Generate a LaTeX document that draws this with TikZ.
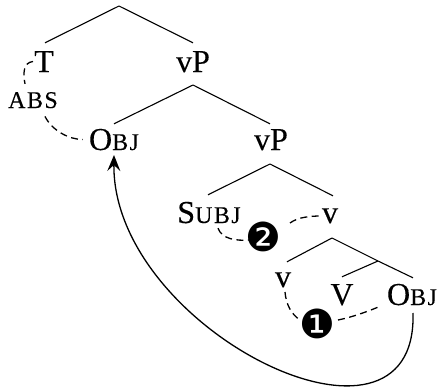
\documentclass[tikz,border=0pt]{standalone}
\usepackage{fontspec}
\setmainfont{Liberation Serif}[FakeBold=0.2]
\newfontfamily\dejavu{DejaVu Sans}
\usetikzlibrary{arrows.meta,calc}
\newcommand\fsc[1]{{\fontsize{24pt}{24pt}\selectfont\addfontfeature{LetterSpace=6}#1}}
\begin{document}
\begin{tikzpicture}[x=1pt,y=-1pt,
  lab/.style={font=\fontsize{32pt}{32pt}\selectfont, inner sep=0pt, text height=21pt, text depth=0pt, anchor=base},
  br/.style={line width=1.1pt},
  dsh/.style={dash pattern=on 7pt off 4.5pt, line width=1.3pt},
  num/.style={font=\dejavu\fontsize{40pt}{40pt}\selectfont, inner sep=0pt},
  arr/.style={line width=1.3pt, -{Stealth[length=16pt,width=13pt,inset=6pt]}}]
\useasboundingbox (0,0) rectangle (440,388);
% nodes
\coordinate (r0) at (119,6);
\node[lab] (T) at (44,72) {T};
\node[lab] (vP1) at (193,72) {vP};
\node[font=\fontsize{24pt}{24pt}\selectfont\addfontfeature{LetterSpace=6}, inner sep=0pt, anchor=base] (ABS) at (33,108) {ABS};
\coordinate (a1) at (193,85);
\node[lab] (OBJ1) at (114,150) {O\fsc{BJ}};
\node[lab] (vP2) at (271,150) {vP};
\coordinate (a2) at (270,164);
\node[lab] (SUBJ) at (209,223) {S\fsc{UBJ}};
\node[lab] (v1) at (330,223) {v};
\coordinate (a3) at (332,238);
\coordinate (a4) at (378,261);
\node[lab] (v2) at (283,287) {v};
\node[lab] (V) at (342,305) {V};
\node[lab] (OBJ2) at (412,305) {O\fsc{BJ}};
\node[num] (n2) at (263,237) {❷};
\node[num] (n1) at (317,324) {❶};
% branches
\draw[br] (r0) -- ([xshift=1pt,yshift=8pt]T.north);
\draw[br] (r0) -- ([yshift=8pt]vP1.north);
\draw[br] (a1) -- ([yshift=5pt]OBJ1.north);
\draw[br] (a1) -- ([xshift=-1pt,yshift=5pt]vP2.north);
\draw[br] (a2) -- ([xshift=-1pt,yshift=7pt]SUBJ.north);
\draw[br] (a2) -- ([xshift=3pt,yshift=6pt]v1.north);
\draw[br] (a3) -- ([xshift=4pt,yshift=4pt]v2.north);
\draw[br] (a3) -- (a4) -- ([xshift=1pt,yshift=6pt]OBJ2.north);
\draw[br] (a4) -- ([yshift=7pt]V.north);
% dashed dependencies
\draw[dsh] ([xshift=-1pt]T.west) .. controls +(-10,1) and +(-2,-10) .. ($(ABS.north)+(-8,-8)$);
\draw[dsh] ($(ABS.south)+(12,8)$) .. controls +(7,14) and +(-14,0) .. ([xshift=-6pt]OBJ1.west);
\draw[dsh] ($(SUBJ.south)+(9,5)$) .. controls +(4,11) and +(-14,1) .. ($(n2.center)+(-13,3)$);
\draw[dsh] ($(n2.center)+(27,-14)$) .. controls +(8,-6) and +(-10,0) .. ($(v1.base)+(-9,-7)$);
\draw[dsh] ($(v2.base)+(2,5)$) .. controls +(1,12) and +(-9,-6) .. ($(n1.center)+(-17,-4)$);
\draw[dsh] ($(n1.center)+(21,-4)$) .. controls +(15,-3) and +(-12,5) .. ($(OBJ2.base west)+(-6,1)$);
% movement arrow
\draw[arr] ($(OBJ2.base)+(1,8)$) .. controls (418,480) and (112,330) .. ($(OBJ1.base)+(0,5)$);
\end{tikzpicture}
\end{document}
